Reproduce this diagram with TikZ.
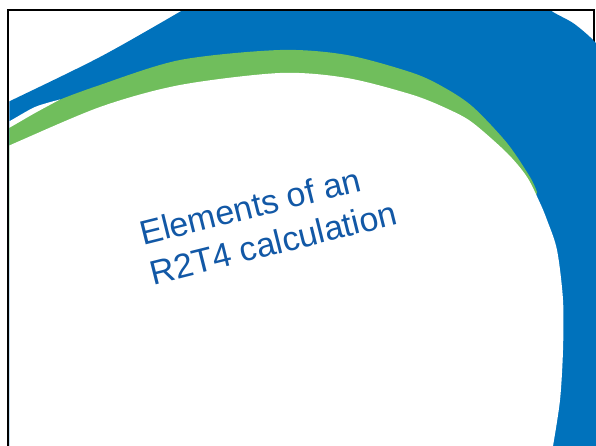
\documentclass[tikz,border=0pt]{standalone}
\usepackage{fontspec}
\setmainfont{Liberation Sans}
\definecolor{swooshblue}{RGB}{0,114,188}
\definecolor{swooshgreen}{RGB}{112,190,92}
\definecolor{titleblue}{RGB}{18,88,166}
\begin{document}
\begin{tikzpicture}[x=1pt, y=-1pt,
        frameline/.style={line width=2.5pt, black},
        titletext/.style={text=titleblue, inner sep=0pt, align=left,
            font=\fontsize{34}{41}\selectfont}]
        \useasboundingbox [fill=white] (0,0) rectangle (596,446);

        \draw [frameline] (8,460) -- (8,10) -- (594,10) -- (594,460);

        \begin{scope}
            \clip (9.3,11.3) rectangle (596,446);
            \fill [swooshblue]
                plot [smooth] coordinates {(-5,108) (8,102) (100,57) (183,10) (196,2)}
                -- plot [smooth] coordinates {(540,2) (553,12) (573,23) (590,37) (602,50)}
                -- (602,452) -- (-5,452) -- cycle;
            \fill [swooshgreen]
                plot [smooth] coordinates {(-5,134) (8,128) (50,104) (100,85) (180,60)
                    (280,50) (347,55) (413,73) (445,88) (473,107) (507,143) (530,177) (537,192)}
                -- (520,260) -- (-5,260) -- cycle;
            \fill [white]
                plot [smooth] coordinates {(-5,127) (8,122) (35,107) (60,99.5)}
                -- plot [smooth] coordinates {(60,99.5) (35,113) (8,128.5) (-5,134.5)} -- cycle;
            \fill [white]
                plot [smooth] coordinates {(-5,151) (8,146) (100,107) (180,85) (280,73)
                    (347,78) (413,95) (450,110) (473,123) (507,153) (527,177) (540,203)
                    (547,220) (557,250) (563,300) (563,350) (560,400) (553,446) (551,455)}
                -- (-5,455) -- cycle;
        \end{scope}

        \node [titletext, rotate=14, anchor=base west] (title) at (153,285.3)
            {Elements of an\\R2T4 calculation};
\end{tikzpicture}
\end{document}
